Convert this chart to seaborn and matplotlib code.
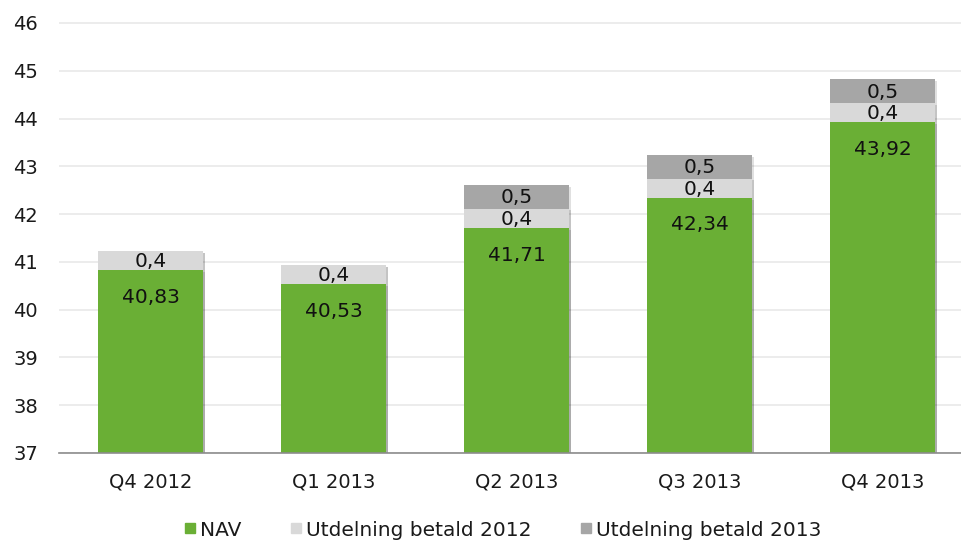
import matplotlib
matplotlib.use("Agg")
import matplotlib.pyplot as plt
import matplotlib.patheffects as pe
from matplotlib.lines import Line2D
import numpy as np
import pandas as pd
import seaborn as sns

quarters = ["Q4 2012", "Q1 2013", "Q2 2013", "Q3 2013", "Q4 2013"]
nav = [40.83, 40.53, 41.71, 42.34, 43.92]
dist_2012 = [0.4, 0.4, 0.4, 0.4, 0.4]
dist_2013 = [0.0, 0.0, 0.5, 0.5, 0.5]
series_names = ["NAV", "Utdelning betald 2012", "Utdelning betald 2013"]
colors = ["#6AAF35", "#D9D9D9", "#A6A6A6"]

sns.set_theme(style="white")
plt.rcParams["font.family"] = ["DejaVu Sans"]

df = pd.DataFrame({"quarter": quarters, "nav": nav,
                   "d12": dist_2012, "d13": dist_2013})
df["lvl1"] = df["nav"]
df["lvl2"] = df["nav"] + df["d12"]
df["lvl3"] = df["lvl2"] + df["d13"]

fig = plt.figure(figsize=(9.61, 5.42), dpi=100)
ax = fig.add_axes([59 / 961, 1 - 453 / 542, 915 / 961, (453 - 22) / 542])

shadow = [pe.SimplePatchShadow(offset=(1.2, -1.2), shadow_rgbFace="#000000", alpha=0.12),
          pe.Normal()]

# stacked bars drawn as overlapping cumulative totals, tallest first
for col, color in zip(["lvl3", "lvl2", "lvl1"], colors[::-1]):
    sns.barplot(data=df, x="quarter", y=col, color=color, width=0.575,
                saturation=1, ax=ax, linewidth=0, zorder=3)

for p in ax.patches:
    p.set_path_effects(shadow)

ax.set_ylim(37, 46.02)
ax.set_yticks(np.arange(37, 47, 1))
ax.set_xlim(-0.5, 4.5)
ax.set_xlabel("")
ax.set_ylabel("")
ax.yaxis.grid(True, color="#EBEBEB", linewidth=1.3, zorder=0)
ax.set_axisbelow(True)
for s in ["top", "right", "left"]:
    ax.spines[s].set_visible(False)
ax.spines["bottom"].set_color("#8C8C8C")
ax.spines["bottom"].set_linewidth(1.2)
ax.spines["bottom"].set_zorder(5)
ax.tick_params(axis="y", length=0, pad=15, labelsize=14, labelcolor="#1a1a1a")
ax.tick_params(axis="x", length=0, pad=14, labelsize=14, labelcolor="#1a1a1a")

def fmt(v):
    return f"{v:.2f}".replace(".", ",") if abs(v * 10 - round(v * 10)) > 1e-6 else f"{v:.1f}".replace(".", ",")

lab = dict(ha="center", va="center", fontsize=14.5, color="#111111", zorder=6)
for i in range(len(quarters)):
    # NAV label just inside the top of the green segment
    ax.annotate(fmt(nav[i]), (i, nav[i]), xytext=(0, -19.5), textcoords="offset points", **lab)
    if dist_2012[i] > 0:
        ax.text(i, nav[i] + dist_2012[i] / 2 - 0.02, fmt(dist_2012[i]), **lab)
    if dist_2013[i] > 0:
        ax.text(i, nav[i] + dist_2012[i] + dist_2013[i] / 2 - 0.02, fmt(dist_2013[i]), **lab)

handles = [Line2D([0], [0], marker="s", linestyle="none", markersize=7,
                  markerfacecolor=c, markeredgecolor=c) for c in colors]
fig.legend(handles, series_names, loc="center", bbox_to_anchor=(503 / 961, 1 - 530 / 542),
           ncol=3, frameon=False, fontsize=14.5, handlelength=0.6, handletextpad=0.2,
           columnspacing=2.4, labelcolor="#1a1a1a")

fig.savefig("out.png", dpi=100)
